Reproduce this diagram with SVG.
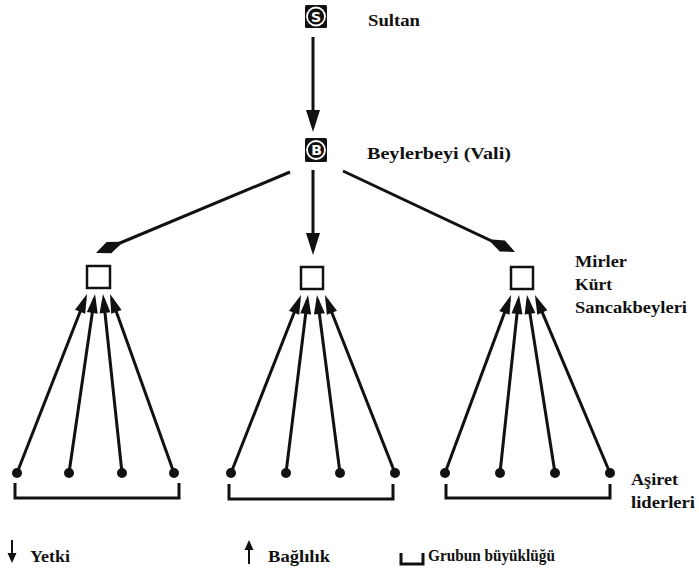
<svg xmlns="http://www.w3.org/2000/svg" width="699" height="572" viewBox="0 0 699 572">
<style>
.t{font-family:"Liberation Serif","Times New Roman",serif;font-weight:bold;font-size:17px;fill:#111}
.ln{stroke:#111;stroke-width:3;fill:none}
.thin{stroke:#111;stroke-width:2;fill:none}
.box{fill:#fff;stroke:#111;stroke-width:2.5}
.dot{fill:#111}
.ic{fill:#111}
.ring{fill:none;stroke:#fff;stroke-width:1.8}
.il{font-family:"DejaVu Sans","Liberation Sans",sans-serif;font-weight:bold;font-size:14px;fill:#fff;text-anchor:middle}
</style>
<defs>
<marker id="tri" markerUnits="userSpaceOnUse" markerWidth="30" markerHeight="16" viewBox="-20 -8 30 16" refX="0" refY="0" orient="auto" overflow="visible"><path d="M5,0 L-17,-7 L-17,7 Z" fill="#111"/></marker>
<marker id="sm" markerUnits="userSpaceOnUse" markerWidth="26" markerHeight="14" viewBox="-16 -7 26 14" refX="0" refY="0" orient="auto" overflow="visible"><path d="M5,0 L-14,-5.5 L-14,5.5 Z" fill="#111"/></marker>
<marker id="spear" markerUnits="userSpaceOnUse" markerWidth="32" markerHeight="14" viewBox="-24 -7 32 14" refX="0" refY="0" orient="auto" overflow="visible"><path d="M4,0 L-10,-6 L-22,-1.5 L-22,1.5 L-10,6 Z" fill="#111"/></marker>
<marker id="leg" markerUnits="userSpaceOnUse" markerWidth="14" markerHeight="12" viewBox="-10 -6 14 12" refX="0" refY="0" orient="auto" overflow="visible"><path d="M3,0 L-7,-4.5 L-7,4.5 Z" fill="#111"/></marker>
</defs>

<g id="connectors">
<line class="ln" x1="313" y1="37" x2="313" y2="127" marker-end="url(#tri)"/>
<line class="ln" x1="313" y1="170" x2="313" y2="250" marker-end="url(#tri)"/>
<line class="ln" x1="290" y1="172" x2="99.7" y2="251.5" marker-end="url(#spear)"/>
<line class="ln" x1="343" y1="171" x2="511.4" y2="250.3" marker-end="url(#spear)"/>

<line class="ln" x1="17" y1="473" x2="85.2" y2="298.7" marker-end="url(#sm)"/>
<line class="ln" x1="69" y1="473" x2="94.3" y2="299" marker-end="url(#sm)"/>
<line class="ln" x1="122" y1="473" x2="103.5" y2="299" marker-end="url(#sm)"/>
<line class="ln" x1="174" y1="473" x2="111.7" y2="298.7" marker-end="url(#sm)"/>

<line class="ln" x1="231" y1="473" x2="299.2" y2="299.7" marker-end="url(#sm)"/>
<line class="ln" x1="286" y1="473" x2="307.4" y2="300" marker-end="url(#sm)"/>
<line class="ln" x1="340" y1="473" x2="317.6" y2="300" marker-end="url(#sm)"/>
<line class="ln" x1="395" y1="473" x2="326.8" y2="299.7" marker-end="url(#sm)"/>

<line class="ln" x1="445" y1="473" x2="509.3" y2="299.7" marker-end="url(#sm)"/>
<line class="ln" x1="500" y1="473" x2="518.5" y2="300" marker-end="url(#sm)"/>
<line class="ln" x1="555" y1="473" x2="527.8" y2="299.9" marker-end="url(#sm)"/>
<line class="ln" x1="610" y1="473" x2="536.9" y2="299.6" marker-end="url(#sm)"/>
</g>

<g id="sultan">
<rect class="ic" x="305" y="5" width="22" height="23" rx="1.5"/>
<circle class="ring" cx="316" cy="16.5" r="9"/>
<text class="il" x="316" y="21.5">S</text>
<text class="t" x="368" y="26" textLength="52" lengthAdjust="spacingAndGlyphs">Sultan</text>
</g>

<g id="beylerbeyi">
<rect class="ic" x="305" y="138" width="22" height="24" rx="1.5"/>
<circle class="ring" cx="316" cy="150" r="9"/>
<text class="il" x="316.5" y="155">B</text>
<text class="t" x="367" y="159" textLength="144" lengthAdjust="spacingAndGlyphs">Beylerbeyi (Vali)</text>
</g>

<g id="mir-left"><rect class="box" x="87" y="266" width="23" height="22"/></g>
<g id="mir-middle"><rect class="box" x="301" y="267" width="22" height="22"/></g>
<g id="mir-right"><rect class="box" x="511" y="267" width="22" height="22"/></g>

<g id="mir-label">
<text class="t" x="575" y="267" textLength="52" lengthAdjust="spacingAndGlyphs">Mirler</text>
<text class="t" x="575" y="290" textLength="37" lengthAdjust="spacingAndGlyphs">Kürt</text>
<text class="t" x="575" y="313" textLength="112" lengthAdjust="spacingAndGlyphs">Sancakbeyleri</text>
</g>

<g id="tribes-left">
<circle class="dot" cx="17" cy="473" r="5"/><circle class="dot" cx="69" cy="473" r="5"/><circle class="dot" cx="122" cy="473" r="5"/><circle class="dot" cx="174" cy="473" r="5"/>
<path class="ln" d="M15,483 V498 H179 V483"/>
</g>
<g id="tribes-middle">
<circle class="dot" cx="231" cy="473" r="5"/><circle class="dot" cx="286" cy="473" r="5"/><circle class="dot" cx="340" cy="473" r="5"/><circle class="dot" cx="395" cy="473" r="5"/>
<path class="ln" d="M229,484 V499 H393 V484"/>
</g>
<g id="tribes-right">
<circle class="dot" cx="445" cy="473" r="5"/><circle class="dot" cx="500" cy="473" r="5"/><circle class="dot" cx="555" cy="473" r="5"/><circle class="dot" cx="610" cy="473" r="5"/>
<path class="ln" d="M446,484 V498 H610 V484"/>
</g>

<g id="tribe-label">
<text class="t" x="631" y="485" textLength="47" lengthAdjust="spacingAndGlyphs">Aşiret</text>
<text class="t" x="631" y="508" textLength="64" lengthAdjust="spacingAndGlyphs">liderleri</text>
</g>

<g id="legend">
<line class="thin" x1="12" y1="540" x2="12" y2="560" marker-end="url(#leg)"/>
<text class="t" x="30" y="562" textLength="40" lengthAdjust="spacingAndGlyphs">Yetki</text>
<line class="thin" x1="249" y1="564" x2="249" y2="543" marker-end="url(#leg)"/>
<text class="t" x="268" y="562" textLength="62" lengthAdjust="spacingAndGlyphs">Bağlılık</text>
<path class="ln" d="M401,553 V564 H423 V553"/>
<text class="t" x="428" y="561" textLength="127" lengthAdjust="spacingAndGlyphs">Grubun büyüklüğü</text>
</g>
</svg>
